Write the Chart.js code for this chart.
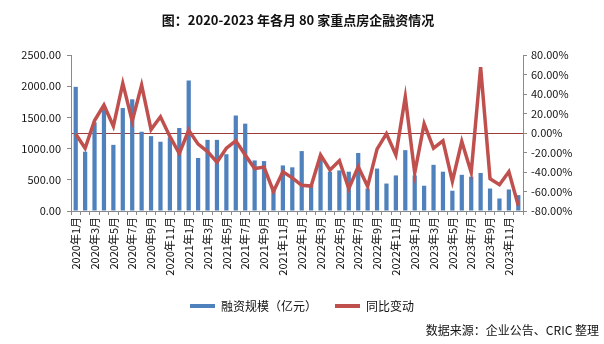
<!DOCTYPE html>
<html lang="zh-CN">
<head>
<meta charset="UTF-8">
<title>2020-2023 年各月 80 家重点房企融资情况</title>
<script src="https://cdn.jsdelivr.net/npm/chart.js"></script>
<style>
    body { margin: 0; background: #fff; font-family: "Noto Sans CJK SC", sans-serif; }
    .wrap { position: relative; width: 604px; height: 344px; }
    .title { position: absolute; left: 0; width: 596px; top: 10px; text-align: center;
             font-size: 13px; font-weight: bold; color: #111; }
    .source { position: absolute; right: 5px; top: 321px; font-size: 12px; color: #111; }
</style>
</head>
<body>
<div class="wrap">
    <canvas id="financeChart" width="604" height="344"></canvas>
    <div class="title">图：2020-2023 年各月 80 家重点房企融资情况</div>
    <div class="source">数据来源：企业公告、CRIC 整理</div>
</div>

<script>
    // 2020年1月 ... 2023年12月
    const months = [];
    for (let y = 2020; y <= 2023; y++) {
        for (let m = 1; m <= 12; m++) months.push(y + '年' + m + '月');
    }

    // 融资规模（亿元）
    const amount = [1990, 950, 1420, 1640, 1060, 1650, 1790, 1270, 1200, 1110, 1180, 1330,
                    2090, 850, 1140, 1140, 910, 1530, 1400, 810, 800, 390, 730, 700,
                    960, 420, 870, 630, 650, 630, 930, 360, 680, 440, 570, 975,
                    570, 405, 740, 630, 325, 580, 550, 610, 360, 200, 345, 255];

    // 同比变动（%）
    const yoy = [-1, -15.6, 12.8, 28.7, 6.9, 50.9, 12.1, 49.2, 3.5, 16.6, -3.5, -21,
                 2.8, -11.4, -19, -30, -15.6, -8, -22.5, -36.4, -35, -60, -39.8, -46,
                 -53.7, -54.4, -22.5, -38, -28.4, -57, -34.6, -54.7, -16.6, -0.7, -22.5, 37,
                 -41, 9.4, -15.6, -8, -49.5, -8.7, -40.5, 67.5, -46.8, -53, -39.8, -74.5];

    const axisGrey = '#8a8a8a';
    const tickFont = { family: '"Noto Sans CJK SC", sans-serif', size: 11 };

    const ctx = document.getElementById('financeChart').getContext('2d');
    new Chart(ctx, {
        data: {
            labels: months,
            datasets: [{
                type: 'bar',
                label: '融资规模（亿元）',
                data: amount,
                yAxisID: 'y',
                backgroundColor: '#4F81BD',
                borderColor: '#4F81BD',
                borderWidth: 0,
                categoryPercentage: 0.9,
                barPercentage: 0.5,
                order: 1
            }, {
                type: 'line',
                label: '同比变动',
                data: yoy,
                yAxisID: 'y2',
                borderColor: '#C0504D',
                backgroundColor: '#C0504D',
                borderWidth: 3.5,
                pointRadius: 0,
                tension: 0,
                order: 0
            }]
        },
        options: {
            responsive: false,
            animation: false,
            layout: { padding: { left: 0, right: 0, top: 55, bottom: 22 } },
            plugins: {
                tooltip: { enabled: false },
                legend: {
                    position: 'bottom',
                    labels: {
                        boxWidth: 25,
                        boxHeight: 4,
                        padding: 18,
                        color: '#111',
                        font: { family: '"Noto Sans CJK SC", sans-serif', size: 12 },
                        generateLabels(chart) {
                            const items = Chart.defaults.plugins.legend.labels.generateLabels(chart);
                            items.forEach(it => { it.fillStyle = it.strokeStyle; it.lineWidth = 0; });
                            return items.sort((a, b) => a.datasetIndex - b.datasetIndex);
                        }
                    }
                }
            },
            scales: {
                x: {
                    grid: { offset: true, drawOnChartArea: false, color: axisGrey, tickLength: 4 },
                    border: { color: axisGrey },
                    ticks: {
                        autoSkip: false,
                        maxRotation: 90,
                        minRotation: 90,
                        padding: 2,
                        color: '#111',
                        font: tickFont,
                        callback: (v, i) => (i % 2 === 0 ? months[i] : '')
                    },
                    afterFit: s => { s.height = 71; }
                },
                y: {
                    position: 'left',
                    min: 0,
                    max: 2500,
                    grid: { drawOnChartArea: false, color: axisGrey, tickLength: 4 },
                    border: { color: axisGrey },
                    ticks: {
                        stepSize: 500,
                        padding: 6,
                        color: '#111',
                        font: tickFont,
                        callback: v => v.toFixed(2)
                    },
                    afterFit: s => { s.width = 71; }
                },
                y2: {
                    position: 'right',
                    min: -80,
                    max: 80,
                    grid: {
                        drawOnChartArea: true,
                        color: c => (c.tick && c.tick.value === 0 ? '#9B3B38' : 'rgba(0,0,0,0)'),
                        tickColor: axisGrey,
                        tickLength: 4,
                        lineWidth: 1
                    },
                    border: { color: axisGrey },
                    ticks: {
                        stepSize: 20,
                        padding: 4,
                        color: '#111',
                        font: tickFont,
                        callback: v => v.toFixed(2) + '%'
                    },
                    afterFit: s => { s.width = 81; }
                }
            }
        }
    });
</script>
</body>
</html>
